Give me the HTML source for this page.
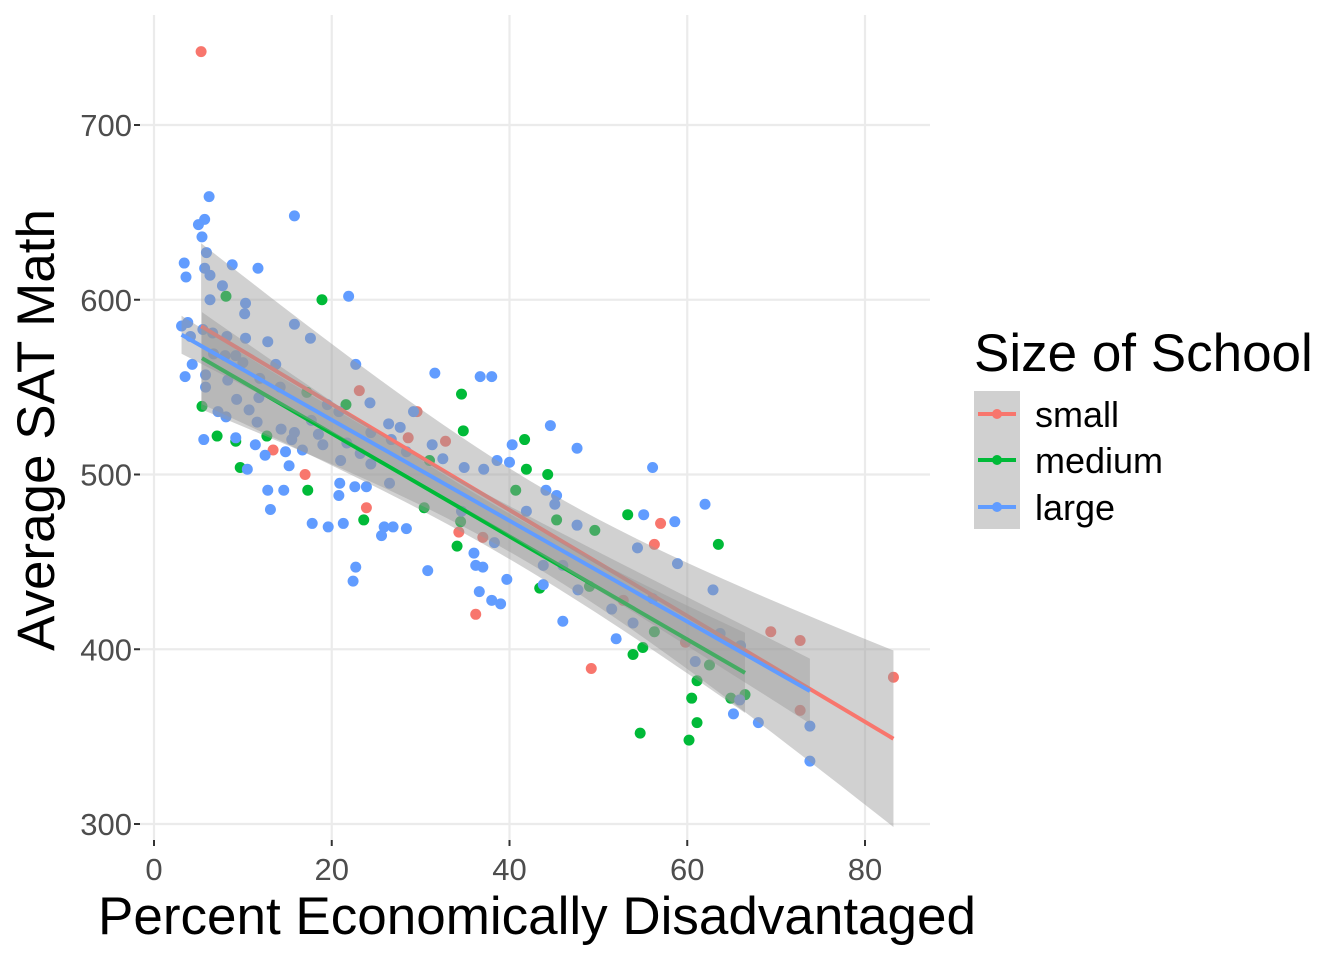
<!DOCTYPE html>
<html><head><meta charset="utf-8"><style>
html,body{margin:0;padding:0;background:#fff;}
svg{display:block;font-family:"Liberation Sans",Arial,sans-serif;}
</style></head><body>
<svg id="chart" width="1344" height="960" viewBox="0 0 1344 960">
<g id="grid"></g>
<g id="pts"></g>
<g id="fits"></g>
<g id="axes"></g>
<text x="537" y="934" text-anchor="middle" font-size="53" fill="#000">Percent Economically Disadvantaged</text>
<text transform="translate(54,430) rotate(-90)" text-anchor="middle" font-size="53" fill="#000">Average SAT Math</text>
<g>
<text x="974" y="371" font-size="53" fill="#000">Size of School</text>
<rect x="974" y="391" width="46" height="138" fill="#d0d0d0"/>
<g><line x1="978" x2="1016" y1="414" y2="414" stroke="#F8766D" stroke-width="4"/><circle cx="997" cy="414" r="5" fill="#F8766D"/><text x="1035" y="427" font-size="36">small</text></g>
<g><line x1="978" x2="1016" y1="460" y2="460" stroke="#00BA38" stroke-width="4"/><circle cx="997" cy="460" r="5" fill="#00BA38"/><text x="1035" y="473" font-size="36">medium</text></g>
<g><line x1="978" x2="1016" y1="507" y2="507" stroke="#619CFF" stroke-width="4"/><circle cx="997" cy="507" r="5" fill="#619CFF"/><text x="1035" y="520" font-size="36">large</text></g>
</g>
</svg>
<script>
const xTicks=[0,20,40,60,80];
const yTicks=[300,400,500,600,700];
const smallX=[5.3,29.6,23.1,32.8,28.6,13.4,23.9,17,34.3,36.2,37,57,56.3,49.2,59.8,69.4,72.7,72.7,83.2,52.8];
const smallY=[742,536,548,519,521,514,481,500,467,420,464,472,460,389,404,410,405,365,384,428];
const mediumX=[5.4,8.1,18.9,9.2,9.7,7.1,12.7,17.3,17.2,21.6,34.6,34.8,34.5,34.1,41.7,44.3,41.9,40.7,49.6,53.3,53.9,55,54.7,56.3,60.5,61.1,61.1,60.2,63.5,62.5,66.5,64.9,30.4,31,23.6,45.3,43.4,49];
const mediumY=[539,602,600,519,504,522,522,491,547,540,546,525,473,459,520,500,503,491,468,477,397,401,352,410,372,382,358,348,460,391,374,372,481,508,474,474,435,436];
const largeX=[6.2,5.7,5,5.4,5.9,5.7,6.3,7.7,3.4,3.6,8.8,11.7,15.8,10.3,10.2,6.3,8.2,3.1,3.8,4.1,3.5,4.3,5.5,10.3,12.8,17.6,15.8,21.9,22.7,31.6,36.7,38,24.3,44.6,47.6,40.3,38.6,40,37.1,34.9,32.5,29.2,27.7,26.4,11.6,10.5,11.4,12.8,13.1,14.6,15.2,15.5,20.9,21.3,19.6,17.8,22.6,22.7,22.4,23.9,25.6,25.9,26.9,30.8,28.4,36,37,36.2,36.6,38,39,39.7,38.3,43.8,43.8,44.1,45.3,46,47.6,47.7,51.5,52,53.9,54.4,55.1,56.1,58.6,58.9,62,62.9,60.9,63.7,66,65.2,65.9,68,73.8,73.8,46,56.1,31.3,23.2,20.8,17.7,10.7,9.3,8.1,9.2,7.2,5.8,5.8,5.6,15.8,21,19,16.7,14.3,18.5,21.7,24.4,26.7,28.4,19.5,20.8,14.8,12.5,11.8,14.2,10,9.2,6.6,8,6.7,8.3,11.9,13.7,24.4,26.5,34.6,45.1,41.9];
const largeY=[659,646,643,636,627,618,614,608,621,613,620,618,648,598,592,600,579,585,587,579,556,563,583,578,576,578,586,602,563,558,556,556,541,528,515,517,508,507,503,504,509,536,527,529,530,503,517,491,480,491,505,520,495,472,470,472,493,447,439,493,465,470,470,445,469,455,447,448,433,428,426,440,461,448,437,491,488,448,471,434,423,406,415,458,477,429,473,449,483,434,393,409,402,363,371,358,356,336,416,504,517,512,488,531,537,543,533,521,536,557,550,520,524,508,517,514,526,523,518,524,520,513,540,536,513,511,544,550,564,568,581,568,569,554,555,563,506,495,479,483,479];

const NS="http://www.w3.org/2000/svg";
const X0=140,X1=930,Y0=15,Y1=840;
function sx(v){return 154+v*(865-154)/80;}
function sy(v){return 824-(v-300)*(824-125)/400;}
function mk(tag,attrs,parent){const e=document.createElementNS(NS,tag);for(const k in attrs)e.setAttribute(k,attrs[k]);parent.appendChild(e);return e;}
const grid=document.getElementById('grid'),axes=document.getElementById('axes');
xTicks.forEach(t=>{
  const l=mk('line',{x1:sx(t),x2:sx(t),y1:Y0,y2:Y1,stroke:'#ebebeb','stroke-width':2.2},grid);
  
  
  const tk=mk('line',{x1:sx(t),x2:sx(t),y1:Y1,y2:Y1+6,stroke:'#333','stroke-width':2},axes);
  
  
  const tx=mk('text',{x:sx(t),y:880,'text-anchor':'middle','font-size':31,fill:'#4d4d4d'},axes);
  tx.textContent=t;
  
  
});
yTicks.forEach(t=>{
  const l=mk('line',{x1:X0,x2:X1,y1:sy(t),y2:sy(t),stroke:'#ebebeb','stroke-width':2.2},grid);
  
  
  const tk=mk('line',{x1:X0-6,x2:X0,y1:sy(t),y2:sy(t),stroke:'#333','stroke-width':2},axes);
  
  
  const tx=mk('text',{x:X0-8,y:sy(t)+11,'text-anchor':'end','font-size':31,fill:'#4d4d4d'},axes);
  tx.textContent=t;
  
  
});
const series=[['small',smallX,smallY,'#F8766D'],['medium',mediumX,mediumY,'#00BA38'],['large',largeX,largeY,'#619CFF']];
const pts=document.getElementById('pts'),fits=document.getElementById('fits');
series.forEach(([nm,xs,ys,c])=>{
  xs.forEach((x,i)=>{
    const p=mk('circle',{cx:sx(x),cy:sy(ys[i]),r:5.5,fill:c},pts);
    
    
  });
});
series.forEach(([nm,xs,ys,c])=>{
  const n=xs.length;const mx=xs.reduce((a,b)=>a+b)/n,my=ys.reduce((a,b)=>a+b)/n;
  let sxx=0,sxy=0;xs.forEach((x,i)=>{sxx+=(x-mx)**2;sxy+=(x-mx)*(ys[i]-my);});
  const b=sxy/sxx,a=my-b*mx;let sse=0;xs.forEach((x,i)=>{sse+=(ys[i]-a-b*x)**2;});
  const s=Math.sqrt(sse/(n-2));const tq=2.03;
  const lo=Math.min(...xs),hi=Math.max(...xs);const up=[],dn=[];
  for(let k=0;k<=40;k++){const x=lo+(hi-lo)*k/40;const f=a+b*x;const se=s*Math.sqrt(1/n+(x-mx)**2/sxx);
    up.push(sx(x)+','+sy(f+tq*se));dn.unshift(sx(x)+','+sy(f-tq*se));}
  const r=mk('polygon',{points:up.concat(dn).join(' '),fill:'#999','fill-opacity':0.45},fits);
  
  
  const l=mk('line',{x1:sx(lo),y1:sy(a+b*lo),x2:sx(hi),y2:sy(a+b*hi),stroke:c,'stroke-width':4},fits);
  
  
});
</script>
</body></html>
